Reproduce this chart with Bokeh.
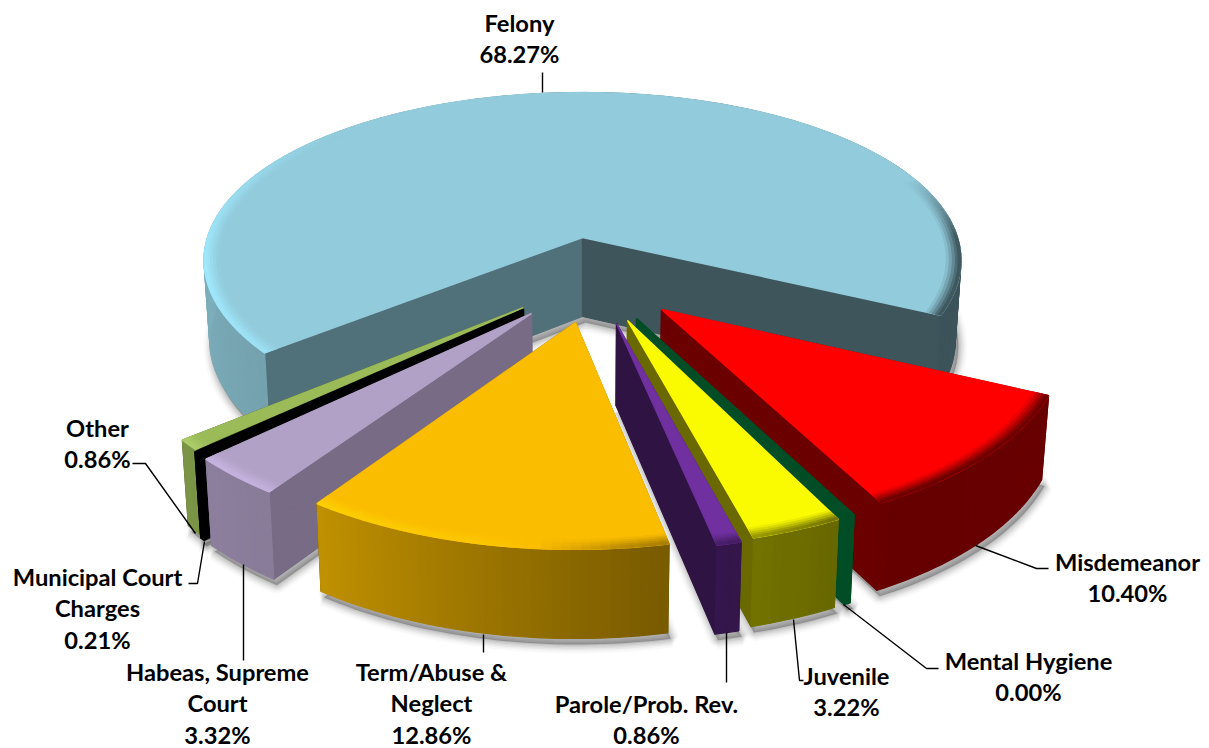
import numpy as np
from bokeh.plotting import figure
from bokeh.models import ColumnDataSource
from bokeh.core.properties import value
from bokeh.embed import file_html
from bokeh.resources import INLINE

# ---- data ----
categories = ["Felony", "Misdemeanor", "Mental Hygiene", "Juvenile", "Parole/Prob. Rev.",
              "Term/Abuse & Neglect", "Habeas, Supreme Court", "Municipal Court Charges", "Other"]
shares = [68.27, 10.40, 0.25, 3.22, 0.86, 12.86, 3.32, 0.21, 0.86]   # Mental Hygiene prints 0.00 but is drawn as a sliver
colors = ["#92CBDB", "#FF0000", "#004D26", "#FAFA00", "#7030A0", "#FBBD00", "#B2A1C7", "#000000", "#9BBB59"]
highlights = ["#A2EAFF", "#FF4040", "#004D26", "#FFFF50", "#8A4CC0", "#FFE000", "#D2BEEE", "#000000", "#B4D470"]
tips = [(582, 237), (661, 309), (636, 318), (627, 320), (616, 323), (575, 322), (531, 313), (523, 309), (523, 307)]
draw_order = [0, 1, 2, 3, 4, 8, 7, 6, 5]
label_lines = [["Felony", "68.27%"], ["Misdemeanor", "10.40%"], ["Mental Hygiene", "0.00%"], ["Juvenile", "3.22%"],
               ["Parole/Prob. Rev.", "0.86%"], ["Term/Abuse &", "Neglect", "12.86%"],
               ["Habeas, Supreme", "Court", "3.32%"], ["Municipal Court", "Charges", "0.21%"], ["Other", "0.86%"]]
label_x = [519, 1127, 1028, 846, 646, 431, 217, 97, 97]
label_y = [22, 561, 660, 675, 703, 671, 671, 576, 427]
leaders = [[(542, 72), (542, 92)],
           [(975, 545), (1036, 568), (1048, 568)],
           [(843, 604), (926, 668), (938, 668)],
           [(793, 619), (799, 680), (803, 680)],
           [(726, 632), (726, 682)],
           [(483, 634), (483, 652)],
           [(243, 564), (243, 660)],
           [(204, 541), (197, 583), (188, 583)],
           [(195, 533), (145, 463), (132, 463)]]

# ---- 3-D look ----
CX, CY, RX, RY, K, KX, D = 582.0, 237.0, 375.0, 166.0, 0.145, 0.135, 79.0
START_DEG = 26.0
FRONT_TURN = -0.6


def scale(v):
    return 1 / (1 - K * v)


def scale_x(v):
    return 1 / (1 - KX * v)


def project(u, v, h=0.0):
    x = CX + RX * u * scale_x(v)
    y = CY + RY * v * scale(v)
    if h:
        x = CX + (x - CX) * (1 - 0.015 * h)
        y = y + D * np.sqrt(scale(v)) * h
    return x, y


def unproject(px, py):
    q = (py - CY) / RY
    v = q / (1 + K * q)
    return (px - CX) / (RX * scale_x(v)), v


def shade(hexcol, f):
    c = np.array([int(hexcol[i:i + 2], 16) for i in (1, 3, 5)], float)
    return "#%02x%02x%02x" % tuple(np.clip(c * f, 0, 255).astype(int))


def blend(hexcol, other, a):
    c = np.array([int(hexcol[i:i + 2], 16) for i in (1, 3, 5)], float)
    o = np.array([int(other[i:i + 2], 16) for i in (1, 3, 5)], float)
    return "#%02x%02x%02x" % tuple(np.clip(c * (1 - a) + o * a, 0, 255).astype(int))


def wall_factor(t):
    return float(np.interp(t % 360, [0, 60, 75, 90, 125, 170, 180, 360],
                           [.42, .40, .46, .55, .77, .85, .86, .42]))


def bevel_amount(t):
    return float(np.interp(t % 360, [0, 62, 84, 100, 125, 170, 195, 225, 338, 360],
                           [-1, -1, -.55, .25, .55, 1, .6, 0, 0, -1]))


p = figure(width=1209, height=748, x_range=(0, 1209), y_range=(748, 0),
           output_backend="svg", toolbar_location=None, min_border=0)
p.axis.visible = False
p.grid.visible = False
p.outline_line_color = None
p.background_fill_color = "white"
p.border_fill_color = "white"


def add_polys(xs, ys, cols):
    src = ColumnDataSource(dict(xs=xs, ys=ys, c=cols))
    p.patches("xs", "ys", source=src, fill_color="c", line_color="c", line_width=1.2)


total = sum(shares)
edges = [START_DEG]
for val in shares[1:]:
    edges.append(edges[-1] + 360 * val / total)
spans = {0: (edges[-1], START_DEG + 360)}
for i in range(1, len(shares)):
    spans[i] = (edges[i - 1] + FRONT_TURN, edges[i] + FRONT_TURN)


def arc(t0, t1, step=1.2):
    n = max(2, int(abs(t1 - t0) / step) + 1)
    return np.radians(np.linspace(t0, t1, n))


for i in draw_order:
    col = colors[i]
    t0, t1 = spans[i]
    u0, v0 = unproject(*tips[i])
    ang = arc(t0, t1)
    uu, vv = u0 + np.cos(ang), v0 + np.sin(ang)

    tx, ty = project(uu, vv)
    bx, by = project(uu, vv, 1.0)
    tipx, tipy = project(u0, v0)
    tipbx, tipby = project(u0, v0, 1.0)

    # soft shadow: stacked translucent outlines round the foot of the slice;
    # the back of the big slice is left out so that it cannot show past the rim
    deg = np.degrees(ang) % 360
    foot = (deg <= 190) | (deg >= 345) if i == 0 else np.ones(len(ang), bool)
    sx = np.r_[tipbx, bx[foot]] + 3
    sy = np.r_[tipby, by[foot]] + 6
    for lw, al in [(18, .025), (14, .03), (11, .04), (8, .05), (5, .06), (2, .07)]:
        p.patch(list(sx), list(sy), fill_color="#000000", fill_alpha=al,
                line_color="#000000", line_alpha=al, line_width=lw)

    # cut faces
    cut_f0, cut_f1 = 0.42, 0.42
    if i == 0:
        cut_f0, cut_f1 = 0.56, 0.42
    if i == 6:
        cut_f0, cut_f1 = 0.67, 0.67
    if i == 2:
        cut_f0, cut_f1 = 1.0, 1.0
    xs = [[tipx, tx[0], bx[0], tipbx], [tipx, tx[-1], bx[-1], tipbx]]
    ys = [[tipy, ty[0], by[0], tipby], [tipy, ty[-1], by[-1], tipby]]
    add_polys(xs, ys, [shade(col, cut_f0), shade(col, cut_f1)])

    # outer wall, strip by strip
    xs, ys, cs = [], [], []
    for a in range(len(ang) - 1):
        tm = np.degrees((ang[a] + ang[a + 1]) / 2)
        xs.append([tx[a], tx[a + 1], bx[a + 1], bx[a]])
        ys.append([ty[a], ty[a + 1], by[a + 1], by[a]])
        cs.append(col if i == 2 else shade(col, wall_factor(tm)))
    add_polys(xs, ys, cs)

    # top face
    p.patch(list(np.r_[tipx, tx]), list(np.r_[tipy, ty]), fill_color=col, line_color=col, line_width=1.4)

    # bevel just inside the rim
    if i not in (2, 7):
        radii = [0.962, 0.970, 0.978, 0.986, 0.993, 1.0]
        alphas = [.12, .32, .55, .78, .95]
        xs, ys, cs = [], [], []
        for b in range(len(radii) - 1):
            for a in range(len(ang) - 1):
                tm = np.degrees((ang[a] + ang[a + 1]) / 2)
                amt = bevel_amount(tm)
                if abs(amt) < .03:
                    continue
                r0, r1 = radii[b], radii[b + 1]
                qu = np.array([u0 + r0 * np.cos(ang[a]), u0 + r0 * np.cos(ang[a + 1]),
                               u0 + r1 * np.cos(ang[a + 1]), u0 + r1 * np.cos(ang[a])])
                qv = np.array([v0 + r0 * np.sin(ang[a]), v0 + r0 * np.sin(ang[a + 1]),
                               v0 + r1 * np.sin(ang[a + 1]), v0 + r1 * np.sin(ang[a])])
                qx, qy = project(qu, qv)
                target = highlights[i] if amt > 0 else shade(col, wall_factor(tm))
                xs.append(list(qx))
                ys.append(list(qy))
                cs.append(blend(col, target, alphas[b] * abs(amt)))
        if xs:
            add_polys(xs, ys, cs)

# leader lines
p.multi_line([[q[0] for q in l] for l in leaders], [[q[1] for q in l] for l in leaders],
             line_color="#000000", line_width=1.4)

# labels
tx_, ty_, tt_ = [], [], []
for lines, lx, ly in zip(label_lines, label_x, label_y):
    for n, s in enumerate(lines):
        tx_.append(lx)
        ty_.append(ly + n * 31.5)
        tt_.append(s)
p.text(tx_, ty_, text=tt_, text_font=value("Lato"), text_font_style="bold", text_font_size="23.7px",
       text_align="center", text_baseline="middle", text_color="#000000")

open("out.html", "w").write(file_html(p, INLINE))
